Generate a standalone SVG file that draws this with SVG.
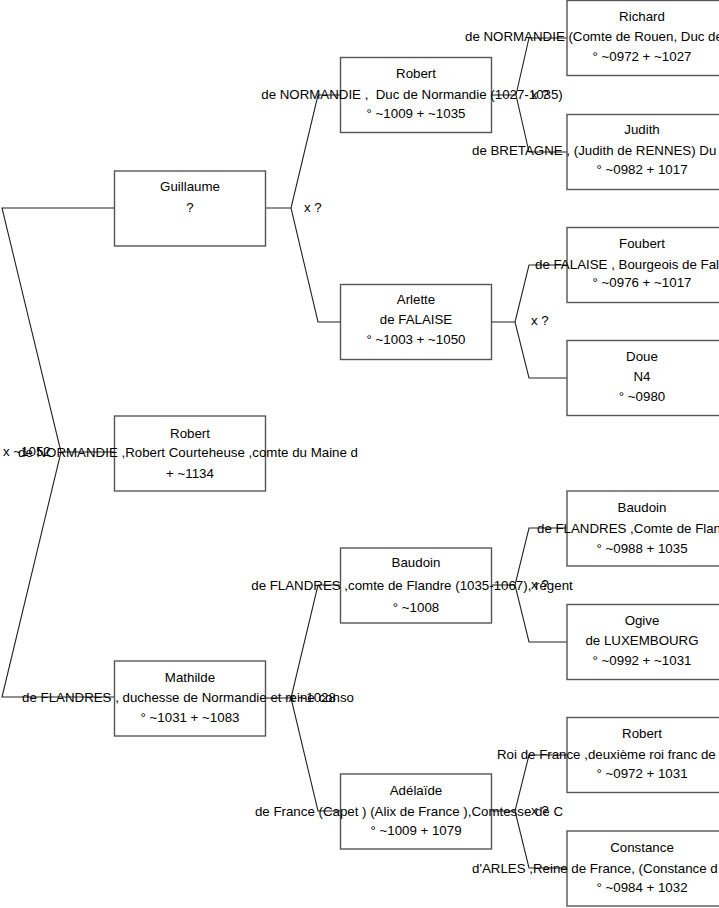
<svg xmlns="http://www.w3.org/2000/svg" width="719" height="908" viewBox="0 0 719 908">
<style>
.b{fill:#fff;stroke:#555;stroke-width:1.4}
.c{fill:none;stroke:#222;stroke-width:1.1}
text{font-family:"Liberation Sans",Arial,sans-serif;font-size:13.3px;fill:#000}
.m{text-anchor:middle}
</style>
<rect width="719" height="908" fill="#fff"/>
<g id="connectors">
<path class="c" d="M114,208 H2 L61,452 L2,697 H114 M61,452 H114"/>
<path class="c" d="M340,95 H318 L291,208 L318,322 H340 M265,208 H291"/>
<path class="c" d="M567,38 H529 L516,95 L529,152 H567 M491,95 H516"/>
<path class="c" d="M567,265 H529 L515,322 L529,378 H567 M491,322 H515"/>
<path class="c" d="M340,585 H318 L291,698 L318,811 H340 M265,698 H291"/>
<path class="c" d="M567,528 H529 L515,585 L529,642 H567 M491,585 H515"/>
<path class="c" d="M567,755 H529 L515,811 L529,868 H567 M491,811 H515"/>
</g>
<g id="labels">
<text x="3" y="456">x ~1052</text>
<text x="304" y="212">x ?</text>
<text x="531" y="99">x ?</text>
<text x="531" y="325">x ?</text>
<text class="m" x="312" y="702">x ~1028</text>
<text x="531" y="589">x ?</text>
<text x="531" y="815">x ?</text>
</g>
<g id="richard">
<rect class="b" x="567" y="0.5" width="155" height="75"/>
<text class="m" x="642" y="21">Richard</text>
<text x="465" y="41">de NORMANDIE (Comte de Rouen, Duc de</text>
<text class="m" x="642" y="61">° ~0972 + ~1027</text>
</g>
<g id="robert1">
<rect class="b" x="340.5" y="57.5" width="151" height="75"/>
<text class="m" x="416" y="78">Robert</text>
<text class="m" x="412" y="99" xml:space="preserve">de NORMANDIE ,  Duc de Normandie (1027-1035)</text>
<text class="m" x="416" y="118">° ~1009 + ~1035</text>
</g>
<g id="judith">
<rect class="b" x="567" y="114.5" width="155" height="75"/>
<text class="m" x="642" y="134">Judith</text>
<text x="472" y="155">de BRETAGNE , (Judith de RENNES) Du</text>
<text class="m" x="642" y="174">° ~0982 + 1017</text>
</g>
<g id="guillaume">
<rect class="b" x="114.5" y="171" width="151" height="75"/>
<text class="m" x="190" y="191">Guillaume</text>
<text class="m" x="190" y="212">?</text>
</g>
<g id="foubert">
<rect class="b" x="567" y="227.5" width="155" height="75"/>
<text class="m" x="642" y="248">Foubert</text>
<text x="535" y="269">de FALAISE , Bourgeois de Fal</text>
<text class="m" x="642" y="287">° ~0976 + ~1017</text>
</g>
<g id="arlette">
<rect class="b" x="340.5" y="284.5" width="151" height="75"/>
<text class="m" x="416" y="304">Arlette</text>
<text class="m" x="416" y="324">de FALAISE</text>
<text class="m" x="416" y="344">° ~1003 + ~1050</text>
</g>
<g id="doue">
<rect class="b" x="567" y="340.5" width="155" height="75"/>
<text class="m" x="642" y="361">Doue</text>
<text class="m" x="642" y="381">N4</text>
<text class="m" x="642" y="401">° ~0980</text>
</g>
<g id="robert2">
<rect class="b" x="114.5" y="416" width="151" height="75"/>
<text class="m" x="190" y="438">Robert</text>
<text class="m" x="188" y="457">de NORMANDIE ,Robert Courteheuse ,comte du Maine d</text>
<text class="m" x="190" y="478">+ ~1134</text>
</g>
<g id="baudoin1">
<rect class="b" x="567" y="491" width="155" height="75"/>
<text class="m" x="642" y="512">Baudoin</text>
<text x="537" y="533">de FLANDRES ,Comte de Flan</text>
<text class="m" x="642" y="553">° ~0988 + 1035</text>
</g>
<g id="baudoin2">
<rect class="b" x="340.5" y="548" width="151" height="75"/>
<text class="m" x="416" y="567">Baudoin</text>
<text class="m" x="412" y="590">de FLANDRES ,comte de Flandre (1035-1067), régent</text>
<text class="m" x="416" y="612">° ~1008</text>
</g>
<g id="ogive">
<rect class="b" x="567" y="604.5" width="155" height="75"/>
<text class="m" x="642" y="625">Ogive</text>
<text class="m" x="642" y="645">de LUXEMBOURG</text>
<text class="m" x="642" y="665">° ~0992 + ~1031</text>
</g>
<g id="mathilde">
<rect class="b" x="114.5" y="661" width="151" height="75"/>
<text class="m" x="190" y="682">Mathilde</text>
<text class="m" x="188" y="702">de FLANDRES , duchesse de Normandie et reine conso</text>
<text class="m" x="190" y="722">° ~1031 + ~1083</text>
</g>
<g id="robert3">
<rect class="b" x="567" y="717.5" width="155" height="75"/>
<text class="m" x="642" y="738">Robert</text>
<text x="497" y="759">Roi de France ,deuxième roi franc de</text>
<text class="m" x="642" y="778">° ~0972 + 1031</text>
</g>
<g id="adelaide">
<rect class="b" x="340.5" y="774" width="151" height="75"/>
<text class="m" x="416" y="795">Adélaïde</text>
<text class="m" x="409" y="816">de France (Capet ) (Alix de France ),Comtesse de C</text>
<text class="m" x="416" y="835">° ~1009 + 1079</text>
</g>
<g id="constance">
<rect class="b" x="567" y="831" width="155" height="75"/>
<text class="m" x="642" y="852">Constance</text>
<text x="472" y="873">d'ARLES ,Reine de France, (Constance d</text>
<text class="m" x="642" y="892">° ~0984 + 1032</text>
</g>
</svg>
